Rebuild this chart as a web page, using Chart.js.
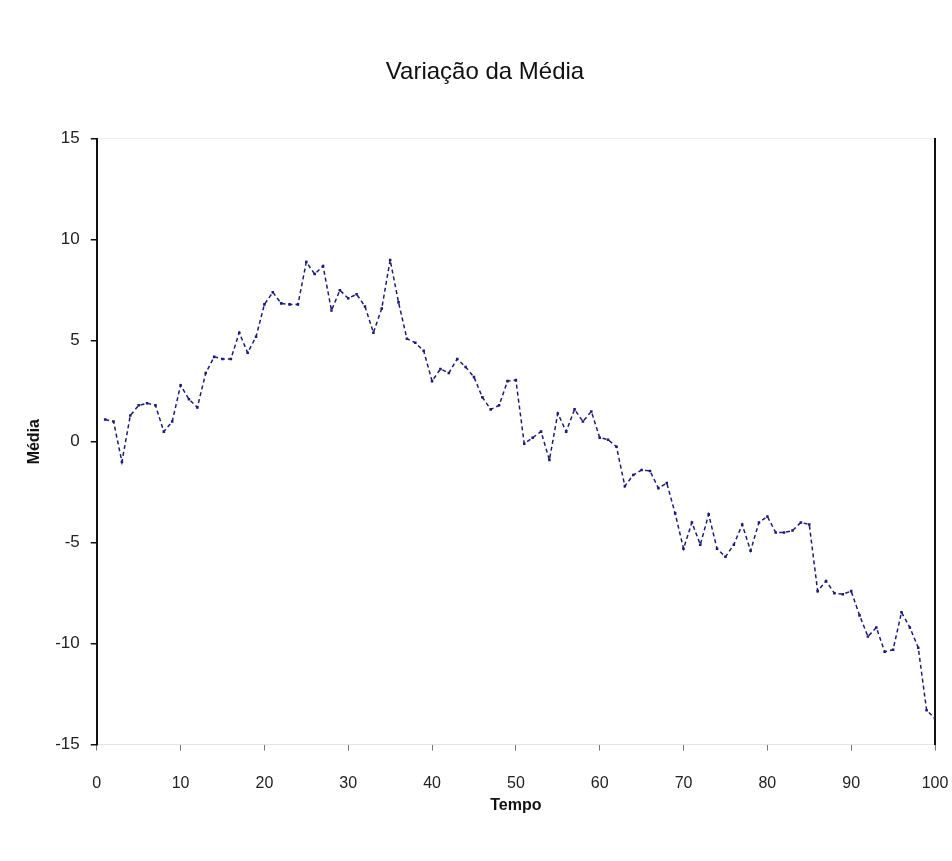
<!DOCTYPE html>
<html>
<head>
<meta charset="utf-8">
<title>Variação da Média</title>
<script src="https://cdn.jsdelivr.net/npm/chart.js@4.4.1/dist/chart.umd.min.js"></script>
<style>
  html, body { margin: 0; padding: 0; background: #fff; }
  #wrap { width: 952px; height: 861px; }
</style>
</head>
<body>
<div id="wrap"><canvas id="chart" width="952" height="861"></canvas></div>
<script>
// Tempo (eixo x)
const tempo = [
  1, 2, 3, 4, 5, 6, 7, 8, 9, 10,
  11, 12, 13, 14, 15, 16, 17, 18, 19, 20,
  21, 22, 23, 24, 25, 26, 27, 28, 29, 30,
  31, 32, 33, 34, 35, 36, 37, 38, 39, 40,
  41, 42, 43, 44, 45, 46, 47, 48, 49, 50,
  51, 52, 53, 54, 55, 56, 57, 58, 59, 60,
  61, 62, 63, 64, 65, 66, 67, 68, 69, 70,
  71, 72, 73, 74, 75, 76, 77, 78, 79, 80,
  81, 82, 83, 84, 85, 86, 87, 88, 89, 90,
  91, 92, 93, 94, 95, 96, 97, 98, 99, 100
]

// Média
const media = [
  1.1, 1.0, -1.0, 1.3, 1.8, 1.9, 1.8, 0.5, 1.0, 2.8,
  2.1, 1.7, 3.4, 4.2, 4.1, 4.1, 5.4, 4.4, 5.2, 6.8,
  7.4, 6.85, 6.8, 6.8, 8.9, 8.3, 8.7, 6.5, 7.5, 7.1,
  7.3, 6.7, 5.4, 6.6, 9.0, 6.9, 5.1, 4.9, 4.5, 3.0,
  3.6, 3.4, 4.1, 3.7, 3.2, 2.2, 1.6, 1.8, 3.0, 3.05,
  -0.1, 0.2, 0.5, -0.9, 1.4, 0.5, 1.6, 1.0, 1.5, 0.2,
  0.1, -0.25, -2.2, -1.65, -1.4, -1.45, -2.3, -2.05, -3.55, -5.3,
  -4.0, -5.1, -3.6, -5.3, -5.7, -5.1, -4.1, -5.4, -4.0, -3.7,
  -4.5, -4.5, -4.4, -4.0, -4.1, -7.4, -6.9, -7.5, -7.55, -7.4,
  -8.6, -9.65, -9.2, -10.4, -10.3, -8.45, -9.2, -10.2, -13.3, -13.7
]

// Marcas dos eixos
const xTicks = [0, 10, 20, 30, 40, 50, 60, 70, 80, 90, 100]
const yTicks = [-15, -10, -5, 0, 5, 10, 15]

const fontFamily = "'Liberation Sans Narrow', 'Liberation Sans', Arial, sans-serif"
const navy = "#1c1c78"

const ctx = document.getElementById("chart").getContext("2d")

new Chart(ctx, {
  type: "line",
  data: {
    datasets: [
      {
        label: "Média",
        data: tempo.map((t, i) => ({ x: t, y: media[i] })),
        borderColor: navy,
        backgroundColor: navy,
        borderWidth: 1.5,
        borderDash: [4, 3],
        pointStyle: "rect",
        pointRadius: 1.8,
        pointBorderWidth: 0,
        tension: 0,
      },
    ],
  },
  options: {
    responsive: false,
    animation: false,
    layout: {
      padding: { top: 22, bottom: 46, left: 35, right: 17 },
    },
    plugins: {
      legend: { display: false },
      tooltip: { enabled: false },
      title: {
        display: true,
        text: "Variação da Média",
        color: "#111",
        font: { family: fontFamily, size: 24, weight: "normal" },
        padding: { top: 36, bottom: 52 },
      },
    },
    scales: {
      x: {
        type: "linear",
        min: 0,
        max: 100,
        afterBuildTicks: (scale) => {
          scale.ticks = xTicks.map((v) => ({ value: v }))
        },
        // o rótulo "100" pode passar da borda da área do gráfico
        afterFit: (scale) => {
          scale.paddingRight = 0
        },
        ticks: {
          color: "#222",
          padding: 23,
          maxRotation: 0,
          font: { family: fontFamily, size: 16 },
        },
        grid: {
          drawOnChartArea: false,
          drawTicks: true,
          tickLength: 6,
          color: "#777",
        },
        border: { display: true, color: "#e4e4e4", width: 1 },
        title: {
          display: true,
          text: "Tempo",
          color: "#111",
          font: { family: fontFamily, size: 16, weight: "bold" },
          padding: { top: -20, bottom: 0 },
        },
      },
      x2: {
        type: "linear",
        position: "top",
        min: 0,
        max: 100,
        ticks: { display: false },
        grid: { display: false, drawTicks: false },
        border: { display: true, color: "#eeeeee", width: 1 },
      },
      y: {
        type: "linear",
        min: -15,
        max: 15,
        afterBuildTicks: (scale) => {
          scale.ticks = yTicks.map((v) => ({ value: v }))
        },
        ticks: {
          color: "#222",
          padding: 11,
          font: { family: fontFamily, size: 17 },
        },
        grid: {
          drawOnChartArea: false,
          drawTicks: true,
          tickLength: 6,
          color: "#111",
          lineWidth: 1.5,
        },
        border: { display: true, color: "#111", width: 2 },
        title: {
          display: true,
          text: "Média",
          color: "#111",
          font: { family: fontFamily, size: 16, weight: "bold" },
          padding: { top: -10, bottom: 0 },
        },
      },
      y2: {
        type: "linear",
        position: "right",
        min: -15,
        max: 15,
        afterFit: (scale) => {
          scale.width = 0
        },
        ticks: { display: false },
        grid: { display: false, drawTicks: false },
        border: { display: true, color: "#111", width: 2 },
      },
    },
  },
})
</script>
</body>
</html>
